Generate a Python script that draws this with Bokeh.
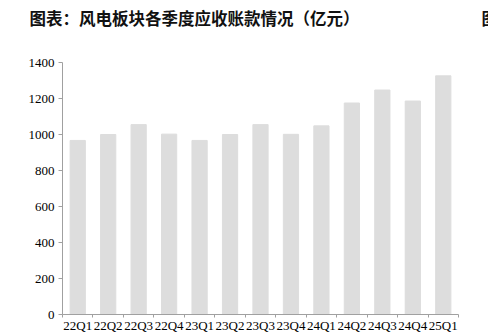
from bokeh.plotting import figure
from bokeh.layouts import column
from bokeh.models import FixedTicker, Range1d, ColumnDataSource
from bokeh.core.properties import value
from bokeh.embed import file_html
from bokeh.resources import INLINE

quarters = ["22Q1", "22Q2", "22Q3", "22Q4", "23Q1", "23Q2", "23Q3", "23Q4",
            "24Q1", "24Q2", "24Q3", "24Q4", "25Q1"]
receivables = [967, 1000, 1055, 1002, 967, 1000, 1055, 1001, 1048, 1175, 1247, 1186, 1326]
y_ticks = [0, 200, 400, 600, 800, 1000, 1200, 1400]
title_texts = ["图表：风电板块各季度应收账款情况（亿元）", "图"]

# --- title strip (pixel-like coordinates, y measured from the top) ---
head = figure(width=488, height=52, output_backend="svg", toolbar_location=None,
              x_range=Range1d(0, 488), y_range=Range1d(52, 0),
              min_border=0)
head.frame_align = False
head.axis.visible = False
head.grid.visible = False
head.outline_line_color = None
head.background_fill_color = "white"
head.border_fill_color = "white"
head.text(x=[29, 481], y=[17, 17], text=title_texts,
          text_font=value("Noto Sans CJK SC"), text_font_style="bold",
          text_font_size="16.5px", text_color="#111111",
          text_baseline="middle", text_align="left")

# --- bar chart ---
xs = [i + 0.5 for i in range(len(quarters))]
src = ColumnDataSource(dict(x=xs, top=receivables))

p = figure(width=488, height=283, output_backend="svg", toolbar_location=None,
           x_range=Range1d(0, len(quarters)), y_range=Range1d(0, 1400),
           min_border_left=62, min_border_right=30, min_border_top=10,
           min_border_bottom=0)
p.frame_align = False
p.vbar(x="x", top="top", width=0.5, source=src, color="#dddddd")

p.xgrid.visible = False
p.ygrid.visible = False
p.outline_line_color = None
p.background_fill_color = "white"
p.border_fill_color = "white"

xa = p.xaxis[0]
xa.ticker = FixedTicker(ticks=xs, minor_ticks=list(range(len(quarters) + 1)))
xa.major_label_overrides = {x: q for x, q in zip(xs, quarters)}
xa.major_tick_line_color = None
xa.major_tick_out = 0
xa.major_tick_in = 0
xa.minor_tick_out = 3
xa.minor_tick_in = 0
xa.minor_tick_line_color = "#a0a0a0"
xa.axis_line_color = "#a0a0a0"
xa.major_label_text_font = "Liberation Serif"
xa.major_label_text_font_size = "13px"
xa.major_label_text_color = "black"
xa.major_label_standoff = 0

ya = p.yaxis[0]
ya.ticker = FixedTicker(ticks=y_ticks)
ya.major_tick_out = 4
ya.major_tick_in = 0
ya.minor_tick_line_color = None
ya.major_tick_line_color = "#a0a0a0"
ya.axis_line_color = "#a0a0a0"
ya.major_label_text_font = "Liberation Serif"
ya.major_label_text_font_size = "13px"
ya.major_label_text_color = "black"
ya.major_label_standoff = 4

layout = column(head, p, spacing=0)
open("out.html", "w").write(file_html(layout, INLINE))
